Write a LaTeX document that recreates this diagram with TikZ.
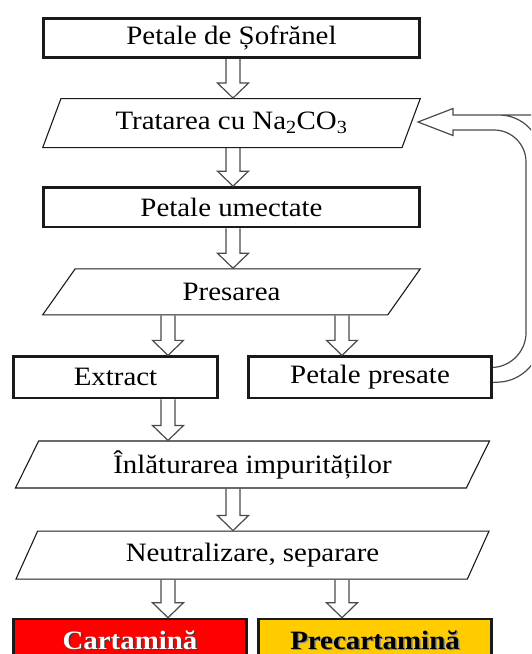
\documentclass[tikz,border=0pt]{standalone}
\usepackage{fontspec}
\setmainfont{Liberation Serif}[FakeStretch=1.09]
\usetikzlibrary{positioning,shapes.geometric,calc}
\definecolor{boxline}{HTML}{1A1A1A}
\definecolor{arrowline}{HTML}{4A4A4A}
\definecolor{cartred}{HTML}{FF0000}
\definecolor{precyellow}{HTML}{FFCC00}

% hollow block arrow between two points (same x)
\newcommand{\blockarrow}[2]{%
  \draw[hollow] let \p1=(#1), \p2=(#2) in
    (\x1-7pt,\y1) -- (\x1-7pt,\y2+15pt) -- (\x1-15.5pt,\y2+15pt) -- (\x1,\y2)
    -- (\x1+15.5pt,\y2+15pt) -- (\x1+7pt,\y2+15pt) -- (\x1+7pt,\y1);}
\newcommand{\shadowtext}[3]{%
  \makebox[0pt][l]{\hspace{1.5pt}\raisebox{-1.5pt}{\textcolor{#2}{#3}}}\textcolor{#1}{#3}}

\begin{document}
\begin{tikzpicture}[x=1pt, y=-1pt, font=\fontsize{26.5}{30}\selectfont,
      rectbox/.style={draw=boxline, line width=2.6pt, minimum width=376pt, minimum height=39.5pt, inner sep=0pt},
      slantbox/.style={trapezium, trapezium left angle=60, trapezium right angle=120,
        trapezium stretches=true, draw=boxline, line width=1.1pt, minimum width=378pt, minimum height=49pt, inner sep=0pt},
      hollow/.style={draw=arrowline, line width=1.2pt, line join=miter}]
    \useasboundingbox (0,0) rectangle (531,654);
    \clip (0,0) rectangle (531,654);

    \node[rectbox] (sofr) at (231.5,38) {Petale de Șofrănel};
    \node[slantbox, below=39pt of sofr] (trat) {Tratarea cu Na\textsubscript{2}CO\textsubscript{3}};
    \node[rectbox, below=38pt of trat] (umec) {Petale umectate};
    \node[slantbox, minimum height=46pt, below=40pt of umec] (pres) {Presarea};
    \node[rectbox, minimum width=204.5pt, minimum height=41.5pt, below=40pt of pres, xshift=-116pt] (extr) {Extract};
    \node[rectbox, minimum width=243.5pt, minimum height=41.5pt, below=40pt of pres, xshift=138.5pt] (ppres) {Petale presate};
    \node[slantbox, trapezium left angle=62, trapezium right angle=118, minimum width=475pt, minimum height=47pt,
      below=41pt of extr, xshift=137pt] (inlat) {Înlăturarea impurităților};
    \node[slantbox, trapezium left angle=62, trapezium right angle=118, minimum width=475pt, minimum height=48pt,
      below=42pt of inlat] (neut) {Neutralizare, separare};
    \node[rectbox, fill=cartred, minimum width=233.5pt, minimum height=44pt, below=38pt of neut, xshift=-122.5pt] (cart)
      {\bfseries\shadowtext{white}{black!75}{Cartamină}};
    \node[rectbox, fill=precyellow, minimum width=233.5pt, minimum height=44pt, below=38pt of neut, xshift=122.5pt] (precart)
      {\bfseries\shadowtext{black}{black!45}{Precartamină}};

    \coordinate (lcol) at (168,0);
    \coordinate (mcol) at (233,0);
    \coordinate (rcol) at (342,0);
    \coordinate (looptip) at (418,122);

    \blockarrow{sofr.south -| mcol}{trat.north -| mcol}
    \blockarrow{trat.south -| mcol}{umec.north -| mcol}
    \blockarrow{umec.south -| mcol}{pres.north -| mcol}
    \blockarrow{pres.south -| lcol}{extr.north -| lcol}
    \blockarrow{pres.south -| rcol}{ppres.north -| rcol}
    \blockarrow{extr.south -| lcol}{inlat.north -| lcol}
    \blockarrow{inlat.south -| mcol}{neut.north -| mcol}
    \blockarrow{neut.south -| lcol}{cart.north -| lcol}
    \blockarrow{neut.south -| rcol}{precart.north -| rcol}

    % return loop to the Na2CO3 step
    \draw[hollow] ($(ppres.east)+(0,5)$) [rounded corners=42pt] -- (541,380) -- (541,115) -- (496,115)
      [sharp corners] -- (453,115) -- (453,108.5) -- (looptip) -- (453,135.5) -- (453,130) -- (492,130)
      [rounded corners=32pt] -- (526,130) -- (526,365) -- ($(ppres.east)+(0,-10)$);
\end{tikzpicture}
\end{document}
